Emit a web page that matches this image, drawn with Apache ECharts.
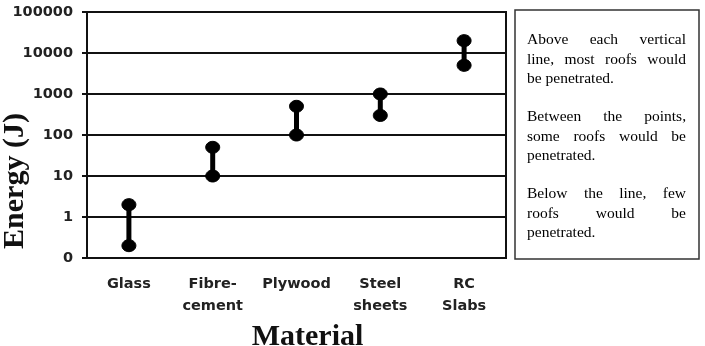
<!DOCTYPE html>
<html lang="en">
<head>
  <meta charset="UTF-8" />
  <title>Energy by material</title>
  <script src="https://cdn.jsdelivr.net/npm/echarts@6/dist/echarts.min.js"></script>
  <style>
    html, body { margin: 0; padding: 0; background: #fff; }
    #main { width: 705px; height: 346px; }
  </style>
</head>
<body>
  <div id="main"></div>
<script>
  // data
  var categories = ['Glass', 'Fibre-\ncement', 'Plywood', 'Steel\nsheets', 'RC\nSlabs'];
  var lowValues = [0.2, 10, 100, 300, 5000];
  var highValues = [2, 50, 500, 1000, 20000];
  var yTickValues = [0.1, 1, 10, 100, 1000, 10000, 100000];
  var yTickLabels = ['0', '1', '10', '100', '1000', '10000', '100000'];

  // note box, one array per paragraph
  var noteParas = [
    ['Above each vertical', 'line, most roofs would', 'be penetrated.'],
    ['Between the points,', 'some roofs would be', 'penetrated.'],
    ['Below the line, few', 'roofs would be', 'penetrated.']
  ];

  var chart = echarts.init(document.getElementById('main'));

  var seriesData = categories.map(function (c, i) {
    return [i, lowValues[i], highValues[i]];
  });

  // justified text -> one text element per word
  var noteFont = '15.5px "Liberation Serif", "Times New Roman", serif';
  var ctx = document.createElement('canvas').getContext('2d');
  ctx.font = noteFont;
  var boxL = 527, boxR = 686, lineY = 40, lineH = 19.5, paraGap = 18.5;
  var noteEls = [];
  noteParas.forEach(function (para) {
    para.forEach(function (line, li) {
      var words = line.split(' ');
      var last = li === para.length - 1;
      var wsum = 0;
      words.forEach(function (w) { wsum += ctx.measureText(w).width; });
      var gap = last || words.length < 2 ? ctx.measureText(' ').width : (boxR - boxL - wsum) / (words.length - 1);
      var x = boxL;
      words.forEach(function (w) {
        noteEls.push({
          type: 'text', x: x, y: lineY,
          style: { text: w, font: noteFont, fill: '#000', verticalAlign: 'middle', align: 'left' }
        });
        x += ctx.measureText(w).width + gap;
      });
      lineY += lineH;
    });
    lineY += paraGap;
  });

  var option = {
    animation: false,
    backgroundColor: '#fff',
    grid: {
      left: 87, right: 199, top: 12, bottom: 88,
      containLabel: false, outerBoundsMode: 'none',
      show: true, borderColor: '#111', borderWidth: 2
    },
    xAxis: {
      type: 'category',
      data: categories,
      name: 'Material',
      nameLocation: 'middle',
      nameGap: 57,
      nameTextStyle: {
        fontFamily: '"Liberation Serif", "Times New Roman", serif',
        fontWeight: 'bold', fontSize: 30, color: '#111',
        padding: [0, 0, 0, 22]
      },
      axisLine: { lineStyle: { color: '#111', width: 2 } },
      axisTick: { length: 5, lineStyle: { color: '#111', width: 2 } },
      axisLabel: {
        interval: 0,
        margin: 15,
        fontFamily: '"DejaVu Sans", Arial, sans-serif',
        fontWeight: 'bold', fontSize: 14.5, color: '#222', lineHeight: 22
      },
      splitLine: { show: false }
    },
    yAxis: {
      type: 'log',
      logBase: 10,
      min: 0.1,
      max: 100000,
      splitNumber: 6,
      axisLine: { show: true, lineStyle: { color: '#111', width: 2 } },
      axisTick: { show: true, length: 5, lineStyle: { color: '#111', width: 2 } },
      axisLabel: {
        margin: 14,
        fontFamily: '"DejaVu Sans", Arial, sans-serif',
        fontWeight: 'bold', fontSize: 14.5, color: '#222',
        formatter: function (v) {
          var best = 0;
          yTickValues.forEach(function (t, k) {
            if (Math.abs(Math.log10(t) - Math.log10(v)) < Math.abs(Math.log10(yTickValues[best]) - Math.log10(v))) best = k;
          });
          return yTickLabels[best];
        }
      },
      splitLine: { show: true, lineStyle: { color: '#111', width: 2 } },
      minorSplitLine: { show: false }
    },
    graphic: [
      {
        type: 'text', x: 15, y: 181, rotation: Math.PI / 2,
        style: {
          text: 'Energy (J)',
          font: 'bold 30px "Liberation Serif", "Times New Roman", serif',
          fill: '#111', align: 'center', verticalAlign: 'middle'
        }
      },
      {
        type: 'rect',
        shape: { x: 515, y: 10, width: 184, height: 249 },
        style: { fill: 'none', stroke: '#333', lineWidth: 1.5 }
      }
    ].concat(noteEls),
    series: [
      {
        type: 'custom',
        data: seriesData,
        encode: { x: 0, y: [1, 2] },
        renderItem: function (params, api) {
          var lo = api.coord([api.value(0), api.value(1)]);
          var hi = api.coord([api.value(0), api.value(2)]);
          var st = { fill: '#000', stroke: '#000' };
          return {
            type: 'group',
            children: [
              { type: 'line', shape: { x1: lo[0], y1: lo[1], x2: hi[0], y2: hi[1] }, style: { stroke: '#000', lineWidth: 5 } },
              { type: 'ellipse', shape: { cx: lo[0], cy: lo[1], rx: 7, ry: 6 }, style: st },
              { type: 'ellipse', shape: { cx: hi[0], cy: hi[1], rx: 7, ry: 6 }, style: st }
            ]
          };
        }
      }
    ]
  };

  chart.setOption(option);
</script>
</body>
</html>
